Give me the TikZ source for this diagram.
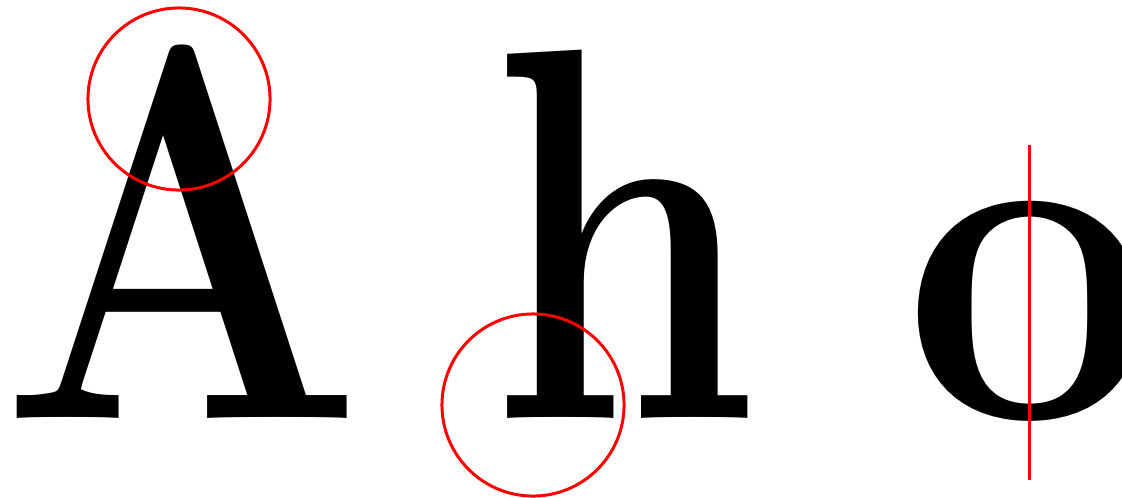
\documentclass[tikz,border=0pt]{standalone}
\begin{document}
\begin{tikzpicture}[x=0.01cm,y=-0.01cm,
  glyph/.style={inner sep=0pt, outer sep=0pt, anchor=base west, font=\fontsize{155}{155}\bfseries},
  ring/.style={circle, draw=red, line width=0.85pt, minimum size=1.82cm, inner sep=0pt, outer sep=0pt},
  redline/.style={draw=red, line width=0.85pt}]
\useasboundingbox (0,0) rectangle (1122,497);
\node[glyph] (A) at (0,418) {\scalebox{0.785}[0.979]{A}};
\node[glyph] (h) at (489,418) {\scalebox{0.79}[0.974]{h}};
\node[glyph] (o) at (904,418) {\scalebox{0.82}[0.88]{o}};
\node[ring] (c1) at (179,99) {};
\node[ring] (c2) at (533,405) {};
\coordinate (t) at (1029,145);
\coordinate (b) at (1029,480);
\draw[redline] (t) -- (b);
\end{tikzpicture}
\end{document}
